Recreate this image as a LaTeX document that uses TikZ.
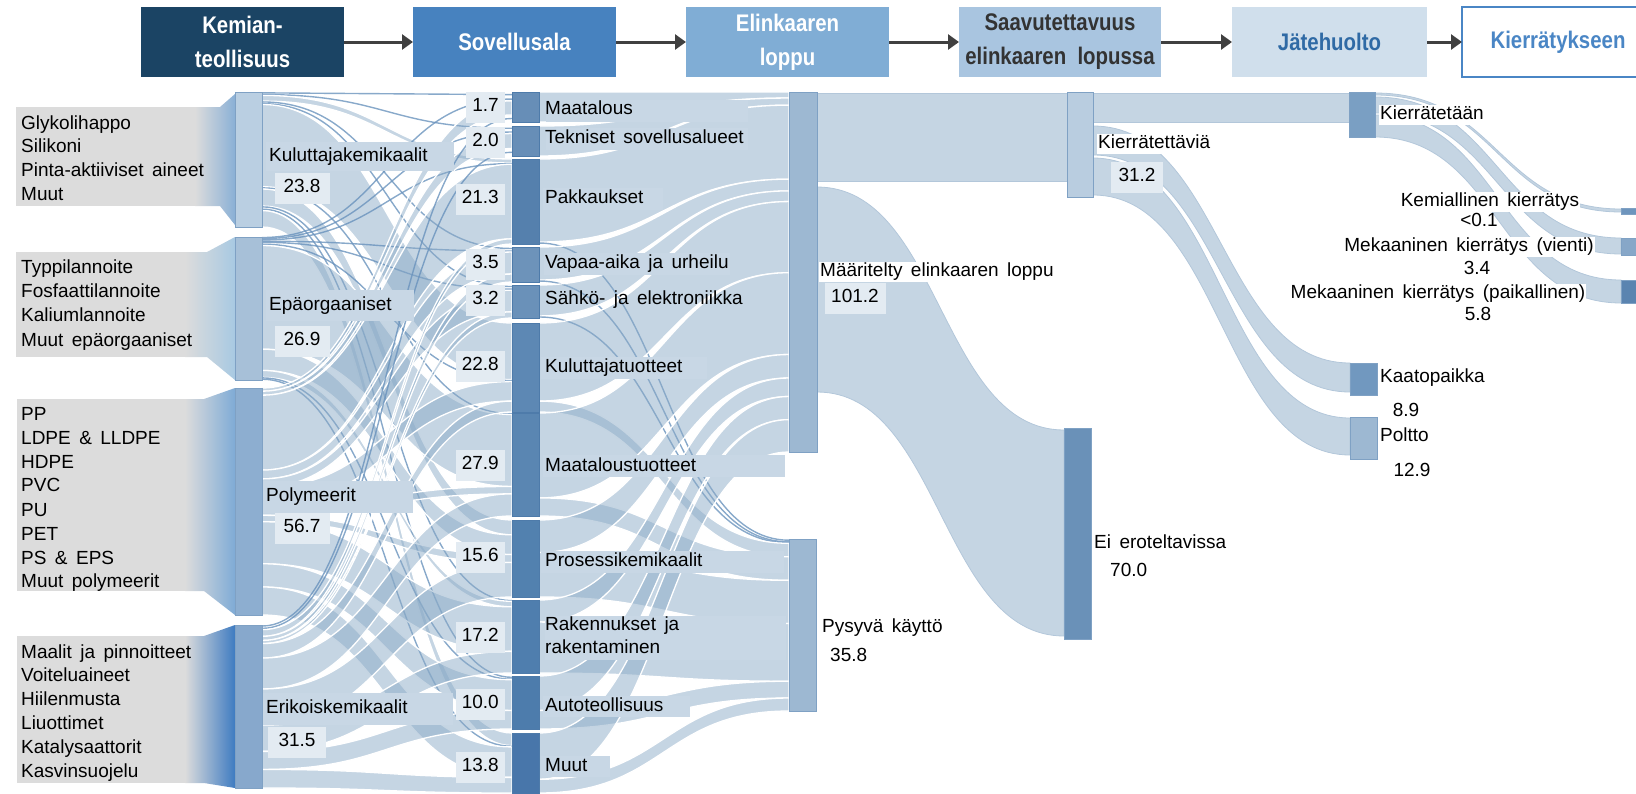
\documentclass[tikz,border=0pt]{standalone}
\usepackage{fontspec}
\setmainfont{Liberation Sans}[WordSpace=1.6]
\newfontfamily\hdrfont{Liberation Sans}[FakeStretch=0.85]
\usetikzlibrary{arrows.meta}
\definecolor{hA}{HTML}{1B4464}
\definecolor{hB}{HTML}{4782BF}
\definecolor{hC}{HTML}{80ADD5}
\definecolor{hD}{HTML}{A9C5E0}
\definecolor{hE}{HTML}{D0DFEC}
\definecolor{hFt}{HTML}{4A86C5}
\definecolor{hDt}{HTML}{333333}
\definecolor{hEt}{HTML}{2F6AA5}
\definecolor{arrowc}{HTML}{404040}
\definecolor{graybg}{HTML}{DCDCDC}
\definecolor{gA}{HTML}{8AB0D6}
\definecolor{gB}{HTML}{A8C9E2}
\definecolor{gC}{HTML}{7FABD6}
\definecolor{gD}{HTML}{3E7BC1}
\definecolor{flowc}{HTML}{8BABC7}
\definecolor{flowedge}{HTML}{B3C7DA}
\definecolor{thinc}{HTML}{6A93BD}
\definecolor{lblbg}{HTML}{C8D7E5}
\definecolor{valbg}{HTML}{E3EBF2}
\definecolor{barline}{HTML}{7FA1C4}
\definecolor{midline}{HTML}{4E7BAA}

\newcommand\setv[2]{\expandafter\xdef\csname #1\endcsname{#2}}
\newcommand\getv[1]{\csname #1\endcsname}
% band: [style] x1 a1 b1 x2 a2 b2
\newcommand\band[7][flow]{%
  \pgfmathsetmacro\xmid{(#2+#5)/2}%
  \path[#1] (#2,#3) .. controls (\xmid,#3) and (\xmid,#6) .. (#5,#6) -- (#5,#7) .. controls (\xmid,#7) and (\xmid,#4) .. (#2,#4) -- cycle;}
\newcommand\flowline[6]{%
  \pgfmathsetmacro\ylo{(#2+#3)/2}\pgfmathsetmacro\yhi{(#5+#6)/2}\pgfmathsetmacro\xmid{(#1+#4)/2}%
  \draw[thinflow] (#1,\ylo) .. controls (\xmid,\ylo) and (\xmid,\yhi) .. (#4,\yhi);}
\newcommand\computeflows[3]{%
 \foreach \i in {1,...,#2}{\setv{#1rs\i}{0}\foreach \j in {1,...,#3}{\pgfmathsetmacro\mytmp{\getv{#1rs\i}+\getv{#1f\i-\j}}\setv{#1rs\i}{\mytmp}}}%
 \foreach \j in {1,...,#3}{\setv{#1cs\j}{0}\foreach \i in {1,...,#2}{\pgfmathsetmacro\mytmp{\getv{#1cs\j}+\getv{#1f\i-\j}}\setv{#1cs\j}{\mytmp}}}%
 \foreach \i in {1,...,#2}{\setv{myacc}{0}\foreach \j in {1,...,#3}{%
   \pgfmathsetmacro\mytmp{\getv{#1st\i}+(\myacc/\getv{#1rs\i})*(\getv{#1sb\i}-\getv{#1st\i})}\setv{#1sa\i-\j}{\mytmp}%
   \pgfmathsetmacro\mytmp{\myacc+\getv{#1f\i-\j}}\setv{myacc}{\mytmp}%
   \pgfmathsetmacro\mytmp{\getv{#1st\i}+(\myacc/\getv{#1rs\i})*(\getv{#1sb\i}-\getv{#1st\i})}\setv{#1sz\i-\j}{\mytmp}}}%
 \foreach \j in {1,...,#3}{\setv{myacc}{0}\foreach \i in {1,...,#2}{%
   \pgfmathsetmacro\mytmp{\getv{#1tt\j}+(\myacc/\getv{#1cs\j})*(\getv{#1tb\j}-\getv{#1tt\j})}\setv{#1ta\i-\j}{\mytmp}%
   \pgfmathsetmacro\mytmp{\myacc+\getv{#1f\i-\j}}\setv{myacc}{\mytmp}%
   \pgfmathsetmacro\mytmp{\getv{#1tt\j}+(\myacc/\getv{#1cs\j})*(\getv{#1tb\j}-\getv{#1tt\j})}\setv{#1tz\i-\j}{\mytmp}}}%
}
\newcommand\drawflows[5]{%
 \foreach \i in {1,...,#2}{\foreach \j in {1,...,#3}{%
   \ifdim\getv{#1f\i-\j}pt>0.59pt
     \band{#4}{\getv{#1sa\i-\j}}{\getv{#1sz\i-\j}}{#5}{\getv{#1ta\i-\j}}{\getv{#1tz\i-\j}}%
   \else\ifdim\getv{#1f\i-\j}pt>0pt
     \flowline{#4}{\getv{#1sa\i-\j}}{\getv{#1sz\i-\j}}{#5}{\getv{#1ta\i-\j}}{\getv{#1tz\i-\j}}%
   \fi\fi}}}

\begin{document}
\begin{tikzpicture}[x=1pt,y=-1pt,
 lf/.style={font=\fontsize{19}{23}\selectfont},
 lab/.style={lf,inner sep=1,text height=13.5,text depth=4,anchor=west,text=black},
 clab/.style={lab,anchor=center},
 val/.style={lab,anchor=east,fill=valbg,inner xsep=6,minimum height=31},
 vbox/.style={lab,anchor=center,fill=valbg,minimum height=31,minimum width=55},
 bar/.style={draw=barline,line width=0.8,inner sep=0,outer sep=0,anchor=north west},
 mbar/.style={bar,draw=midline,line width=0.6,minimum width=27},
 hdr/.style={minimum height=70,inner sep=0,outer sep=0,align=center,font=\hdrfont\bfseries\fontsize{24}{34}\selectfont},
 harrow/.style={draw=arrowc,line width=3pt,-{Triangle[length=11pt,width=15pt]}},
 flow/.style={fill=flowc,fill opacity=0.5,draw=white,line width=1.3},
 rflow/.style={fill=flowc,fill opacity=0.5,draw=flowedge,line width=0.8},
 thinflow/.style={draw=thinc,line width=1.4,draw opacity=0.8},
]
\useasboundingbox (0,0) rectangle (1636,793);

% ---------- data stage 1 ----------
\foreach \t [count=\i] in {92,237,388,625}{\setv{ast\i}{\t}}
\foreach \t [count=\i] in {227,380,615,788}{\setv{asb\i}{\t}}
\foreach \t [count=\j] in {92,126,159,247,285,323,413,520,600,676,733}{\setv{att\j}{\t}\setv{bst\j}{\t}}
\foreach \t [count=\j] in {122,156,244,282,318,412,516,597,673,729,793}{\setv{atb\j}{\t}\setv{bsb\j}{\t}}
\foreach \r [count=\i] in {{0.3,0.3,1.0,0.3,0.3,14.5,0.4,3.0,0.3,0.5,2.9},
                           {0.2,0.2,0.3,0.2,0.2,0.5,19.5,4.0,1.3,0.2,0.3},
                           {0.8,1.0,18.7,2.2,2.1,5.0,2.0,1.6,10.5,5.8,7.0},
                           {0.4,0.5,1.3,0.8,0.6,2.8,6.0,7.0,5.1,3.5,3.6}}{%
  \foreach \v [count=\j] in \r {\setv{af\i-\j}{\v}}}
\computeflows{a}{4}{11}
% ---------- data stage 2 ----------
\foreach \t [count=\j] in {92,539}{\setv{btt\j}{\t}}
\foreach \t [count=\j] in {452,711}{\setv{btb\j}{\t}}
\foreach \r [count=\i] in {{1.7,0},{2.0,0},{20.8,0.5},{3.3,0.2},{3.0,0.2},{20.0,2.8},
                           {23.0,4.9},{6.6,9.0},{5.2,12.0},{6.5,3.5},{9.1,2.7}}{%
  \foreach \v [count=\j] in \r {\setv{bf\i-\j}{\v}}}
\computeflows{b}{11}{2}

% ---------- left grey label panels ----------
\fill[graybg] (16,107) rectangle (221,206);
\shade[left color=graybg,right color=gA] (195,107) -- (220,107) -- (235,94) -- (235,225) -- (220,206) -- (195,206) -- cycle;
\fill[graybg] (16,252) rectangle (208,357);
\shade[left color=graybg,right color=gB] (185,252) -- (207,252) -- (235,237) -- (235,380) -- (207,357) -- (185,357) -- cycle;
\fill[graybg] (17,399) rectangle (205,591);
\shade[left color=graybg,right color=gC] (185,399) -- (204,399) -- (235,388) -- (235,615) -- (204,591) -- (185,591) -- cycle;
\fill[graybg] (17,636) rectangle (205,783);
\shade[left color=graybg,right color=gD] (185,636) -- (204,636) -- (235,625) -- (235,788) -- (204,783) -- (185,783) -- cycle;

\foreach \t/\y [count=\n] in {Glykolihappo/125,Silikoni/148,Pinta-aktiiviset aineet/172,Muut/196,
  Typpilannoite/269,Fosfaattilannoite/293,Kaliumlannoite/317,Muut epäorgaaniset/342,
  PP/416,LDPE \& LLDPE/440,HDPE/464,PVC/487,PU/512,PET/536,PS \& EPS/560,Muut polymeerit/583,
  Maalit ja pinnoitteet/654,Voiteluaineet/677,Hiilenmusta/701,Liuottimet/725,Katalysaattorit/749,Kasvinsuojelu/773}
  {\node[lab] (g\n) at (20,\y) {\t};}

% ---------- flows ----------
\drawflows{a}{4}{11}{262}{512}
\drawflows{b}{11}{2}{539}{789}
\band[rflow]{817}{93}{181}{1067}{93}{181}
\band[rflow]{817}{187}{392}{1064}{430}{636}
\band[rflow]{1093}{93}{122}{1349}{93}{122}
\band[rflow]{1093}{126}{155}{1350}{363}{392}
\band[rflow]{1093}{158}{195}{1350}{418}{455}
\band[rflow]{1375}{93}{95}{1621}{209}{212}
\band[rflow]{1375}{97}{113}{1621}{238}{254}
\band[rflow]{1375}{115}{137}{1621}{280}{303}

% ---------- bars ----------
\node[bar,fill={rgb,255:red,186;green,207;blue,226},minimum width=27,minimum height=135] (kk) at (235,92) {};
\node[bar,fill={rgb,255:red,167;green,192;blue,216},minimum width=27,minimum height=143] (ep) at (235,237) {};
\node[bar,fill={rgb,255:red,141;green,174;blue,208},minimum width=27,minimum height=227] (po) at (235,388) {};
\node[bar,fill={rgb,255:red,135;green,168;blue,204},minimum width=27,minimum height=163] (ek) at (235,625) {};
\node[mbar,fill={rgb,255:red,103;green,142;blue,183},minimum height=30] (s1) at (512,92) {};
\node[mbar,fill={rgb,255:red,103;green,142;blue,183},minimum height=30] (s2) at (512,126) {};
\node[mbar,fill={rgb,255:red,85;green,128;blue,173},minimum height=85] (s3) at (512,159) {};
\node[mbar,fill={rgb,255:red,109;green,147;blue,186},minimum height=35] (s4) at (512,247) {};
\node[mbar,fill={rgb,255:red,106;green,145;blue,185},minimum height=33] (s5) at (512,285) {};
\node[mbar,fill={rgb,255:red,93;green,136;blue,180},minimum height=89] (s6) at (512,323) {};
\node[mbar,fill={rgb,255:red,90;green,134;blue,178},minimum height=103] (s7) at (512,413) {};
\node[mbar,fill={rgb,255:red,82;green,129;blue,175},minimum height=77] (s8) at (512,520) {};
\node[mbar,fill={rgb,255:red,79;green,126;blue,174},minimum height=73] (s9) at (512,600) {};
\node[mbar,fill={rgb,255:red,77;green,124;blue,172},minimum height=53] (s10) at (512,676) {};
\node[mbar,fill={rgb,255:red,72;green,118;blue,170},minimum height=62] (s11) at (512,733) {};
\node[bar,fill={rgb,255:red,157;green,184;blue,210},minimum width=28,minimum height=360] (md) at (789,92) {};
\node[bar,fill={rgb,255:red,157;green,184;blue,210},minimum width=27,minimum height=172] (pk) at (789,539) {};
\node[bar,fill={rgb,255:red,185;green,205;blue,224},minimum width=26,minimum height=105] (kr) at (1067,92) {};
\node[bar,fill={rgb,255:red,106;green,145;blue,184},minimum width=27,minimum height=211] (ee) at (1064,428) {};
\node[bar,fill={rgb,255:red,122;green,159;blue,195},minimum width=26,minimum height=45] (ki) at (1349,92) {};
\node[bar,fill={rgb,255:red,113;green,152;blue,191},minimum width=27,minimum height=32] (ka) at (1350,363) {};
\node[bar,fill={rgb,255:red,157;green,184;blue,210},minimum width=27,minimum height=42] (pt) at (1350,417) {};
\node[bar,fill={rgb,255:red,110;green,149;blue,189},minimum width=16,minimum height=6] (km) at (1621,208) {};
\node[bar,fill={rgb,255:red,135;green,167;blue,200},minimum width=16,minimum height=17] (mv) at (1621,238) {};
\node[bar,fill={rgb,255:red,90;green,132;blue,176},minimum width=16,minimum height=23] (mp) at (1621,280) {};

% ---------- left group labels ----------
\fill[lblbg] (266,142) rectangle (454,171);
\node[lab] (lk) at (268,157) {Kuluttajakemikaalit};
\node[vbox] (vk) at (302,188) {23.8};
\fill[lblbg] (266,290) rectangle (414,321);
\node[lab] (le) at (268,306) {Epäorgaaniset};
\node[vbox] (ve) at (302,341) {26.9};
\fill[lblbg] (263,481) rectangle (413,513);
\node[lab] (lp) at (265,497) {Polymeerit};
\node[vbox] (vp) at (302,528) {56.7};
\fill[lblbg] (263,693) rectangle (453,725);
\node[lab] (ls) at (265,709) {Erikoiskemikaalit};
\node[vbox,minimum width=58] (vs) at (297,742) {31.5};

% ---------- sector labels ----------
\fill[lblbg] (546,100) rectangle (748,122);
\fill[lblbg] (546,128) rectangle (748,150);
\fill[lblbg] (543,188) rectangle (663,210);
\fill[lblbg] (544,253) rectangle (730,275);
\fill[lblbg] (541,357) rectangle (707,379);
\fill[lblbg] (543,455) rectangle (785,477);
\fill[lblbg] (541,551) rectangle (784,573);
\fill[lblbg] (545,616) rectangle (786,660);
\fill[lblbg] (543,696) rectangle (690,717);
\fill[lblbg] (541,756) rectangle (610,777);
\foreach \t/\y [count=\n] in {Maatalous/110,Tekniset sovellusalueet/139,Pakkaukset/199,Vapaa-aika ja urheilu/264,
  Sähkö- ja elektroniikka/300,Kuluttajatuotteet/368,Maataloustuotteet/467,Prosessikemikaalit/562,
  Rakennukset ja/626,rakentaminen/649,Autoteollisuus/707,Muut/767}
  {\node[lab] (l\n) at (544,\y) {\t};}
\foreach \t/\y [count=\n] in {1.7/107,2.0/142,21.3/199,3.5/264,3.2/300,22.8/366,27.9/465,15.6/557,17.2/637,10.0/704,13.8/767}
  {\node[val] (v\n) at (505,\y) {\t};}

% ---------- right labels ----------
\node[lab,fill=white] (lmd) at (819,272) {Määritelty elinkaaren loppu};
\node[vbox,minimum width=61] (vmd) at (855,298) {101.2};
\node[lab] (lpk) at (821,628) {Pysyvä käyttö};
\node[lab] (vpk) at (829,657) {35.8};
\node[lab,fill=white] (lkr) at (1097,144) {Kierrätettäviä};
\node[vbox,minimum width=52] (vkr) at (1137,177) {31.2};
\node[lab] (lee) at (1093,544) {Ei eroteltavissa};
\node[lab] (vee) at (1109,572) {70.0};
\node[lab,fill=white] (lki) at (1379,115) {Kierrätetään};
\node[lab] (lka) at (1379,378) {Kaatopaikka};
\node[clab] (vka) at (1406,412) {8.9};
\node[lab] (lpt) at (1379,437) {Poltto};
\node[clab] (vpt) at (1412,472) {12.9};
\node[clab,fill=white] (lkm) at (1490,202) {Kemiallinen kierrätys};
\node[clab] (vkm) at (1479,222) {<0.1};
\node[clab,fill=white] (lmv) at (1469,247) {Mekaaninen kierrätys (vienti)};
\node[clab] (vmv) at (1477,270) {3.4};
\node[clab,fill=white] (lmp) at (1438,294) {Mekaaninen kierrätys (paikallinen)};
\node[clab] (vmp) at (1478,316) {5.8};

% ---------- header ----------
\node[hdr,fill=hA,text=white,minimum width=203] (h1) at (242.5,42) {Kemian-\\teollisuus};
\node[hdr,fill=hB,text=white,minimum width=203] (h2) at (514.5,42) {Sovellusala};
\node[hdr,fill=hC,text=white,minimum width=203] (h3) at (787.5,42) {Elinkaaren\\loppu};
\node[hdr,fill=hD,text=hDt,minimum width=202] (h4) at (1060,42) {Saavutettavuus\\elinkaaren\ \ lopussa};
\node[hdr,fill=hE,text=hEt,minimum width=195] (h5) at (1329.5,42) {Jätehuolto};
\node[hdr,fill=white,draw=hFt,line width=1.5,text=hFt,minimum width=192] (h6) at (1558,42) {Kierrätykseen};
\draw[harrow] (h1) -- (h2);
\draw[harrow] (h2) -- (h3);
\draw[harrow] (h3) -- (h4);
\draw[harrow] (h4) -- (h5);
\draw[harrow] (h5) -- (h6);
\end{tikzpicture}
\end{document}
